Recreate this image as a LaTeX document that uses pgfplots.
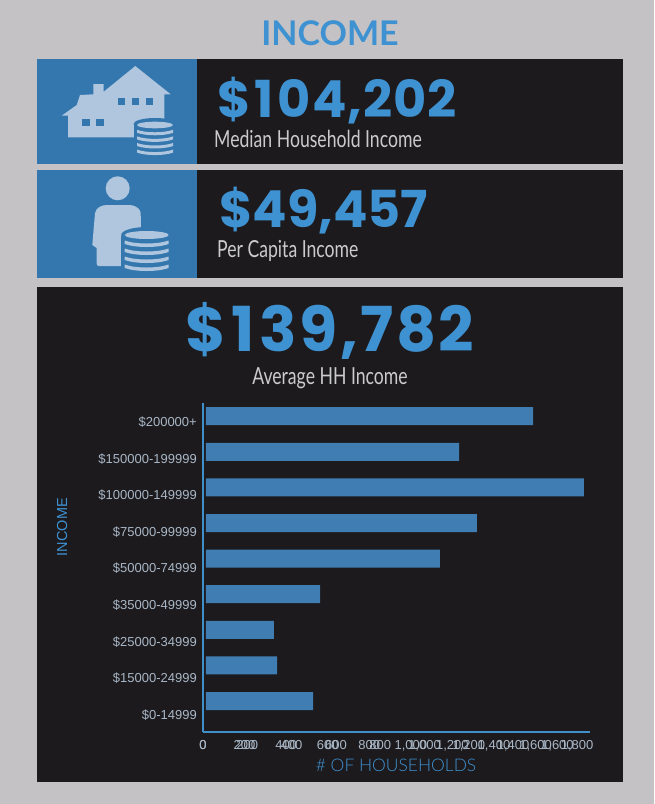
\documentclass[border=0pt]{standalone}
\usepackage{fontspec}
\setmainfont{Liberation Sans}
\newfontfamily\heavy{Poppins}
\newfontfamily\heavyA[LetterSpace=2]{Poppins}
\newfontfamily\heavyC[LetterSpace=4]{Poppins}
\newfontfamily\latoreg{Lato}
\newfontfamily\latolight{Lato Light}
\newfontfamily\narrow[FakeStretch=0.75]{Lato}
\usepackage{pgfplots}
\pgfplotsset{compat=1.18}
\definecolor{pagebg}{HTML}{C4C2C4}
\definecolor{panel}{HTML}{1C1A1D}
\definecolor{iconbg}{HTML}{3377AE}
\definecolor{icon}{HTML}{AFC6DE}
\definecolor{headblue}{HTML}{3F92D2}
\definecolor{barblue}{HTML}{3F7DB3}
\definecolor{linblue}{HTML}{3F8FCB}
\definecolor{subtext}{HTML}{CBCBCB}
\definecolor{ticktext}{HTML}{A9B7C6}
\newcommand{\fs}[1]{\fontsize{#1}{#1}\selectfont}
% coin stack: cx, top y, half width, ry, gap, strip height
\newcommand{\coins}[6]{%
  \fill[icon] (#1,#2) ellipse ({#3} and {#4});
  \foreach \k in {1,2,3,4}{
    \pgfmathsetmacro{\yy}{#2+#4+(\k-1)*#5+1.5}
    \fill[icon] ({#1-#3},\yy) .. controls ({#1-#3*0.5},{\yy+#4}) and ({#1+#3*0.5},{\yy+#4}) .. ({#1+#3},\yy)
      -- ({#1+#3},{\yy+#6}) .. controls ({#1+#3*0.5},{\yy+#6+#4}) and ({#1-#3*0.5},{\yy+#6+#4}) .. ({#1-#3},{\yy+#6}) -- cycle;
  }}
\pgfplotstableread{
idx val
0 515
1 342
2 327
3 549
4 1126
5 1304
6 1819
7 1218
8 1574
}\bars
\begin{document}
\begin{tikzpicture}[x=1pt,y=-1pt]
\path[use as bounding box] (0,0) rectangle (654,804);
\fill[pagebg] (0,0) rectangle (654,804);
% panels
\fill[panel] (37,59) rectangle (623,164);
\fill[iconbg] (37,59) rectangle (197,164);
\fill[panel] (37,170) rectangle (623,278);
\fill[iconbg] (37,170) rectangle (197,278);
\fill[panel] (37,287) rectangle (623,782);
% house
\fill[icon] (135.3,66) -- (170.7,94.3) -- (164.3,94.3) -- (164.3,137.3) -- (68,137.3) -- (68,115.7) -- (61.7,115.7)
  -- (76.7,105) -- (80,95) -- (93.3,94.3) -- (93.3,84) -- (103.7,84) -- (103.7,91.7) -- cycle;
\fill[iconbg] (117.7,98.3) rectangle (125,105);
\fill[iconbg] (131.7,98.3) rectangle (139,105);
\fill[iconbg] (146,98.3) rectangle (153.3,105);
\fill[iconbg] (82.3,119.3) rectangle (89.7,126.3);
\fill[iconbg] (96.3,119.3) rectangle (103.7,126.3);
\fill[iconbg] (133.5,125) rectangle (176,160);
\fill[iconbg] (155,124) ellipse (21.5 and 6);
\coins{155}{125}{18}{3.3}{6.6}{3}
% person
\fill[icon] (117.7,188.3) circle (12);
\fill[icon] (106.7,205) -- (130,205) .. controls (138,206) and (140.5,210) .. (140.7,213.3) -- (141,232) -- (122,266)
  -- (99,266) .. controls (97,266) and (96.7,265) .. (96.7,263) -- (96.7,248) -- (92.3,245) -- (95,213.3)
  .. controls (96,208) and (101,205) .. (106.7,205) -- cycle;
\fill[iconbg] (121,236) rectangle (172,278);
\fill[iconbg] (146.7,235) ellipse (25.5 and 8);
\coins{146.7}{235}{22}{4}{8}{3.5}
% big texts
\node[anchor=base,text=headblue,inner sep=0] at (330,45) {\latoreg\bfseries\fs{34}INCOME};
\node[anchor=base west,text=headblue,inner sep=0] at (217,117) {\heavyA\bfseries\fs{51}\$\hspace{4pt}1\hspace{4pt}04,202};
\node[anchor=base west,text=subtext,inner sep=0] at (214,147) {\narrow\fs{23.5}Median Household Income};
\node[anchor=base west,text=headblue,inner sep=0] at (219,227) {\heavy\bfseries\fs{51}\$49,457};
\node[anchor=base west,text=subtext,inner sep=0] at (217,257) {\narrow\fs{23.5}Per Capita Income};
\node[anchor=base,text=headblue,inner sep=0] at (330,351) {\heavyC\bfseries\fs{62}\$\hspace{5pt}1\hspace{5pt}39,782};
\node[anchor=base,text=subtext,inner sep=0] at (330,384) {\narrow\fs{23.5}Average HH Income};
\coordinate (org) at (203,732);
% bars
\begin{axis}[at={(org)},anchor=south west,scale only axis,width=387pt,height=329pt,
  hide axis,xmin=-14.4,xmax=1848,ymin=-0.871,ymax=8.371,xbar,bar width=18pt]
\addplot[draw=none,fill=barblue] table[x=val,y=idx] {\bars};
\end{axis}
% axis lines, category labels, first set of x labels
\begin{axis}[at={(org)},anchor=south west,scale only axis,width=387pt,height=329pt,
  xmin=0,xmax=1862,ymin=-0.492,ymax=8.497,
  axis x line*=bottom,axis y line*=left,
  axis line style={draw=linblue,line width=1.8pt,-},
  major tick length=0pt,
  xtick={0,200,400,600,800,1000,1200,1400,1600,1800},
  ytick={0,...,8},
  yticklabels={\$0-14999,\$15000-24999,\$25000-34999,\$35000-49999,\$50000-74999,\$75000-99999,\$100000-149999,\$150000-199999,\$200000+},
  scaled x ticks=false,
  /pgf/number format/assume math mode=true,
  tick label style={font=\fs{13},text=ticktext},
  yticklabel style={inner sep=0pt,xshift=-6pt,yshift=-1pt},
  xticklabel style={inner sep=0pt,yshift=-8pt},
  xlabel={\# OF HOUSEHOLDS},
  ylabel={INCOME},
  xlabel style={at={(axis description cs:0.499,-0.1)},anchor=center,text=headblue,font=\latolight\fs{17.4}},
  ylabel style={at={(axis description cs:-0.364,0.623)},anchor=center,rotate=0,text=headblue,font=\fs{14.5}}
]
\addplot[draw=none] coordinates {(0,0)};
\end{axis}
% second, overprinted set of x labels
\begin{axis}[at={(org)},anchor=south west,scale only axis,width=387pt,height=329pt,
  xmin=0,xmax=1747,ymin=0,ymax=1,
  axis x line*=bottom,axis y line=none,
  axis line style={draw=none},
  major tick length=0pt,
  xtick={0,200,400,600,800,1000,1200,1400,1600},
  scaled x ticks=false,
  /pgf/number format/assume math mode=true,
  tick label style={font=\fs{13},text=ticktext},
  xticklabel style={inner sep=0pt,yshift=-8pt}
]
\addplot[draw=none] coordinates {(0,0)};
\end{axis}
\end{tikzpicture}
\end{document}
